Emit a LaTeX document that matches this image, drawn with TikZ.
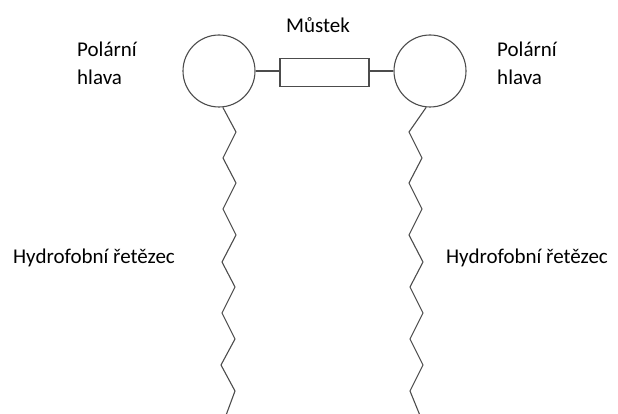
\documentclass[tikz,border=0pt]{standalone}
\usepackage{fontspec}
\setmainfont{Carlito}
\begin{document}
\begin{tikzpicture}[x=1pt,y=-1pt,
  line/.style={draw=black!70,line width=1.1pt},
  lbl/.style={font=\fontsize{21}{28}\selectfont,text=black,inner sep=0pt,align=left}]
\useasboundingbox (0,0) rectangle (618,414);
\node[line,circle,minimum size=72pt,inner sep=0pt] (hl) at (219,71) {};
\node[line,circle,minimum size=72pt,inner sep=0pt] (hr) at (430,71) {};
\node[line,rectangle,minimum width=89pt,minimum height=28pt,inner sep=0pt] (br) at (324.5,72.5) {};
\draw[line] (hl.east) -- (hl.east -| br.west);
\draw[line] (hr.west -| br.east) -- (hr.west);
\node[lbl] (mu) at (318,25) {Můstek};
\node[lbl] (pl) at (107,63) {Polární\\hlava};
\node[lbl] (pr) at (527,63) {Polární\\hlava};
\node[lbl] (hyl) at (94,258) {Hydrofobní řetězec};
\node[lbl] (hyr) at (527,258) {Hydrofobní řetězec};
\coordinate (el) at (225,418);
\coordinate (er) at (421,418);
\draw[line,line join=miter] (hl.-84) -- (236,132) -- (223,158) -- (236,183) -- (223,209) -- (236,235) -- (222,262) -- (235,287) -- (222,313) -- (235,339) -- (221,365) -- (235,391) -- (el);
\draw[line,line join=miter] (hr.-96) -- (409,132) -- (422,158) -- (409,183) -- (422,209) -- (409,235) -- (423,262) -- (410,287) -- (423,313) -- (410,339) -- (423,365) -- (410,391) -- (er);
\end{tikzpicture}
\end{document}
